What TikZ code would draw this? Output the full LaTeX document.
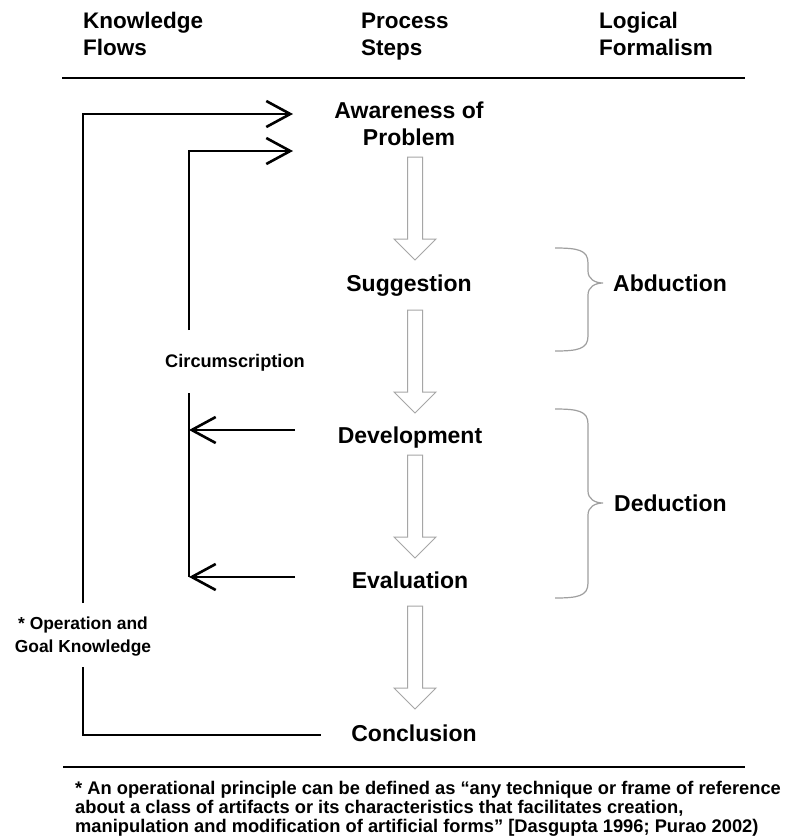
\documentclass[tikz,border=0pt]{standalone}
\usepackage{fontspec}
\setmainfont{Liberation Sans}
\usetikzlibrary{arrows.meta}
\begin{document}
\begin{tikzpicture}[x=1pt,y=-1pt,
  hdr/.style={font=\bfseries\fontsize{22.5}{27}\selectfont, inner sep=0pt, align=left},
  lbl/.style={font=\bfseries\fontsize{23}{27}\selectfont, inner sep=0pt, align=center},
  side/.style={font=\bfseries\fontsize{17.4}{23}\selectfont, inner sep=0pt, align=center},
  foot/.style={font=\bfseries\fontsize{18.3}{18.6}\selectfont, inner sep=0pt, align=left},
  flow/.style={line width=2.6pt, line join=miter, -{Straight Barb[length=24pt,width=26pt,line width=2.6pt]}},
  plain/.style={line width=2.6pt, line join=miter},
  bracket/.style={draw=gray!75, line width=1.2pt},
  rule/.style={line width=1.8pt},
  downarrow/.pic={\draw[line width=1pt, draw=gray!70, fill=white, line join=miter]
    (-7.5,0) -- (7.5,0) -- (7.5,82) -- (21,82) -- (0,103) -- (-21,82) -- (-7.5,82) -- cycle;}
]
\useasboundingbox (0,0) rectangle (795,839);
\fill[white] (0,0) rectangle (795,839);

% column headings (anchored at the baseline of their last line)
\node[hdr, anchor=base west] (hk) at (83,55) {Knowledge\\Flows};
\node[hdr, anchor=base west] (hp) at (361,55) {Process\\Steps};
\node[hdr, anchor=base west] (hl) at (599,55) {Logical\\Formalism};
\draw[rule] (62,78) -- (745,78);

% process steps
\node[lbl, anchor=base] (aware) at (409,145) {Awareness of\\Problem};
\node[lbl, anchor=base] (sugg)  at (409,291) {Suggestion};
\node[lbl, anchor=base] (dev)   at (410,443) {Development};
\node[lbl, anchor=base] (eval)  at (410,588) {Evaluation};
\node[lbl, anchor=base] (concl) at (414,741) {Conclusion};

% hollow step arrows
\pic at (415,157) {downarrow};
\pic at (415,310) {downarrow};
\pic at (415,455) {downarrow};
\pic at (415,606) {downarrow};

% logical formalism
\draw[bracket] (555,248) .. controls (578,248) and (588,250) .. (588,263) -- (588,271)
  .. controls (588,279) and (595,283) .. (603,283)
  .. controls (595,283) and (588,287) .. (588,295) -- (588,336)
  .. controls (588,349) and (578,351) .. (555,351);
\node[lbl, anchor=base west] (abd) at (613,291) {Abduction};

\draw[bracket] (555,409) .. controls (578,409) and (588,411) .. (588,424) -- (588,491)
  .. controls (588,499) and (595,503) .. (603,503)
  .. controls (595,503) and (588,507) .. (588,515) -- (588,583)
  .. controls (588,596) and (578,598) .. (555,598);
\node[lbl, anchor=base west] (ded) at (614,511) {Deduction};

% knowledge flows
\coordinate (awIn1) at (293,114);
\coordinate (awIn2) at (293,151);
\coordinate (okTop) at (83,603);
\coordinate (okBot) at (83,667);
\coordinate (concIn) at (321,735);
\coordinate (ciTop) at (189,330);
\coordinate (ciBot) at (189,393);
\coordinate (ciEnd) at (189,577);
\coordinate (devOut) at (295,430);
\coordinate (evOut) at (295,577);

\node[side, anchor=base] (okl) at (83,652) {* Operation and\\Goal Knowledge};
\node[side, font=\bfseries\fontsize{18.2}{22}\selectfont, anchor=base] (circ) at (235,367) {Circumscription};

\draw[flow] (okTop) |- (awIn1);
\draw[plain] (okBot) |- (concIn);
\draw[flow] (ciTop) |- (awIn2);
\draw[plain] (ciBot) -- (ciEnd);
\draw[flow] (devOut) -- (devOut -| ciBot);
\draw[flow] (evOut) -- (ciEnd);

% footnote
\draw[rule] (63,767) -- (745,767);
\node[foot, anchor=base west] (note) at (75,832) {* An operational principle can be defined as “any technique or frame of reference\\about a class of artifacts or its characteristics that facilitates creation,\\manipulation and modification of artificial forms” [Dasgupta 1996; Purao 2002)};
\end{tikzpicture}
\end{document}
